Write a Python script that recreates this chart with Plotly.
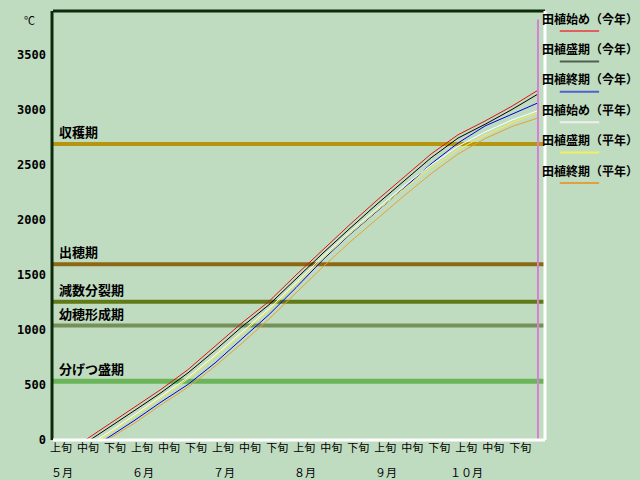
import plotly.graph_objects as go

BG = "#C0DCC0"
JP_FONT = "Noto Sans CJK JP"

# 旬 (10-day period) labels along the x axis
DEKAD_LABELS = ["上旬", "中旬", "下旬"] * 6
MONTH_LABELS = ["５月", "６月", "７月", "８月", "９月", "１０月"]

# accumulated temperature (°C) by 旬 index (0 = 5月上旬 start)
red_x = [1.2, 2, 3, 4, 5, 6, 7, 8, 9, 10, 11, 12, 13, 14, 15, 16, 17, 17.96]
red_y = [0, 130, 295, 460, 640, 850, 1065, 1260, 1500, 1730, 1960, 2180, 2390, 2600, 2775, 2900, 3035, 3180]

black_x = [1.37, 2, 3, 4, 5, 6, 7, 8, 9, 10, 11, 12, 13, 14, 15, 16, 17, 17.96]
black_y = [0, 100, 265, 430, 610, 815, 1030, 1230, 1465, 1700, 1925, 2145, 2355, 2565, 2745, 2870, 3005, 3145]

blue_x = [1.89, 2, 3, 4, 5, 6, 7, 8, 9, 10, 11, 12, 13, 14, 15, 16, 17, 17.96]
blue_y = [0, 15, 175, 345, 505, 700, 920, 1140, 1385, 1640, 1870, 2080, 2290, 2510, 2700, 2855, 2960, 3065]

white_x = [1.6, 2, 3, 4, 5, 6, 7, 8, 9, 10, 11, 12, 13, 14, 15, 16, 17, 17.96]
white_y = [0, 60, 225, 395, 570, 770, 985, 1195, 1430, 1670, 1895, 2105, 2310, 2500, 2670, 2800, 2910, 2994]

yellow_x = [1.7, 2, 3, 4, 5, 6, 7, 8, 9, 10, 11, 12, 13, 14, 15, 16, 17, 17.96]
yellow_y = [0, 45, 210, 380, 555, 755, 970, 1180, 1415, 1650, 1875, 2085, 2285, 2475, 2640, 2770, 2885, 2975]

orange_x = [2.0, 3, 4, 5, 6, 7, 8, 9, 10, 11, 12, 13, 14, 15, 16, 17, 17.96]
orange_y = [0, 150, 320, 480, 670, 880, 1100, 1340, 1575, 1800, 2010, 2220, 2420, 2600, 2740, 2850, 2927]

SERIES = [
    ("田植始め（今年）", red_x, red_y, "#E01010", "#E06060"),
    ("田植盛期（今年）", black_x, black_y, "#000000", "#506050"),
    ("田植終期（今年）", blue_x, blue_y, "#0000E0", "#5060D0"),
    ("田植始め（平年）", white_x, white_y, "#FFFFFF", "#F0F0F0"),
    ("田植盛期（平年）", yellow_x, yellow_y, "#F0F040", "#F0F060"),
    ("田植終期（平年）", orange_x, orange_y, "#E8A030", "#E0A040"),
]

# growth stage thresholds
STAGE_NAMES = ["収穫期", "出穂期", "減数分裂期", "幼穂形成期", "分げつ盛期"]
STAGE_VALUES = [2690, 1597, 1257, 1040, 533]
STAGE_COLORS = ["#B4960F", "#8B6914", "#607A18", "#76905A", "#6AB45A"]
STAGE_WIDTHS = [4, 4, 4, 4, 5]

TODAY_X = 17.96

fig = go.Figure()

for name, xs, ys, color, _ in SERIES:
    fig.add_trace(
        go.Scatter(x=xs, y=ys, mode="lines", name=name, line=dict(color=color, width=1))
    )

for name, val, color, w in zip(STAGE_NAMES, STAGE_VALUES, STAGE_COLORS, STAGE_WIDTHS):
    fig.add_hline(y=val, line_color=color, line_width=w, layer="below")
    fig.add_annotation(
        x=0.008, xref="paper", y=val, yref="y", text=f"<b>{name}</b>",
        showarrow=False, xanchor="left", yanchor="bottom", yshift=1,
        font=dict(size=13, color="black", family=JP_FONT),
    )

# month labels under the 上旬 ticks
for i, m in enumerate(MONTH_LABELS):
    fig.add_annotation(
        x=3 * i + 0.33, xref="x", y=0, yref="paper", text=m, showarrow=False,
        xanchor="center", yanchor="top", yshift=-22,
        font=dict(size=11, color="black", family=JP_FONT),
    )

fig.add_annotation(
    x=-0.047, xref="paper", y=0.98, yref="paper", text="℃", showarrow=False,
    xanchor="center", yanchor="middle", font=dict(size=11, color="black", family=JP_FONT),
)

# today marker
fig.add_shape(type="line", x0=TODAY_X, x1=TODAY_X, y0=0, y1=0.98, xref="x", yref="paper",
              line=dict(color="#D67FD6", width=2))

# sunken frame: dark top/left, white bottom/right
fig.add_shape(type="line", x0=-0.002, x1=-0.002, y0=0, y1=1, xref="paper", yref="paper",
              line=dict(color="#0B2B0B", width=3))
fig.add_shape(type="line", x0=0, x1=1, y0=1, y1=1, xref="paper", yref="paper",
              line=dict(color="#0B2B0B", width=3))
fig.add_shape(type="line", x0=1, x1=1, y0=0, y1=1, xref="paper", yref="paper",
              line=dict(color="#FFFFFF", width=3))
fig.add_shape(type="line", x0=0, x1=1, y0=0, y1=0, xref="paper", yref="paper",
              line=dict(color="#FFFFFF", width=3))

# custom legend: label with a line sample beneath it
for i, (name, _, _, _, sample) in enumerate(SERIES):
    ty = (440 - (18 + 30.4 * i)) / 429
    ly = (440 - (31 + 30.4 * i)) / 429
    fig.add_annotation(
        x=0.99, xref="paper", y=ty, yref="paper", text=f"<b>{name}</b>",
        showarrow=False, xanchor="left", yanchor="middle",
        font=dict(size=12, color="black", family=JP_FONT),
    )
    fig.add_shape(type="line", x0=1.03, x1=1.11, y0=ly, y1=ly, xref="paper", yref="paper",
                  line=dict(color=sample, width=2))

fig.update_xaxes(
    range=[0, 18.22], showgrid=False, zeroline=False, showline=False, ticks="",
    tickvals=[i + 0.3 for i in range(len(DEKAD_LABELS))], ticktext=DEKAD_LABELS,
    tickfont=dict(size=11, color="black", family=JP_FONT),
)
fig.update_yaxes(
    range=[0, 3900], showgrid=False, zeroline=False, showline=False, ticks="",
    tickvals=[0, 500, 1000, 1500, 2000, 2500, 3000, 3500], ticklabelstandoff=6,
    tickfont=dict(size=12, color="black", family="DejaVu Sans Mono", weight="bold"),
)
# page body has an 8px margin, so the figure is 8px smaller and margins shifted
fig.update_layout(
    width=632, height=472, margin=dict(l=45, r=95, t=3, b=40),
    paper_bgcolor=BG, plot_bgcolor=BG, showlegend=False,
    font=dict(family=JP_FONT),
)

fig.write_html("out.html", post_script=f"document.body.style.backgroundColor = '{BG}';")
